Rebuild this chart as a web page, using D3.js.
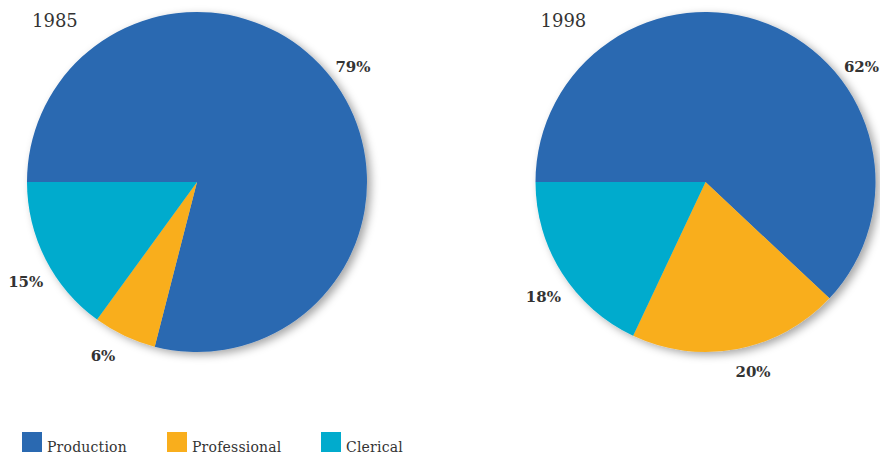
<!DOCTYPE html>
<html><head><meta charset="utf-8">
<script src="https://cdn.jsdelivr.net/npm/d3@7"></script>
<style>body{margin:0;background:#fff}svg{display:block}</style>
</head><body>
<svg id="chart" width="880" height="454"></svg>
<script>
const categories = ["Production", "Professional", "Clerical"];
const years = ["1985", "1998"];
const values1985 = [79, 6, 15];
const values1998 = [62, 20, 18];
const colors = ["#2a69b1", "#f9ae1c", "#01abcd"];

const svg = d3.select("#chart");
const defs = svg.append("defs");
const f = defs.append("filter").attr("id","shadow").attr("x","-20%").attr("y","-20%").attr("width","140%").attr("height","140%");
f.append("feDropShadow").attr("dx",4).attr("dy",3).attr("stdDeviation",4).attr("flood-color","#000").attr("flood-opacity",0.35);

const R = 170, labelR = 195;
const centers = [[197,182],[705.5,182]];
const color = d3.scaleOrdinal().domain(categories).range(colors);
const pie = d3.pie().sort(null).value(d => d.v)
  .startAngle(-Math.PI/2).endAngle(1.5*Math.PI);
const arc = d3.arc().innerRadius(0).outerRadius(R);

[values1985, values1998].forEach((vals, i) => {
  const data = categories.map((c,j)=>({c, v: vals[j]}));
  const g = svg.append("g").attr("transform", `translate(${centers[i][0]},${centers[i][1]})`);
  const gs = g.append("g").attr("filter","url(#shadow)");
  gs.selectAll("path").data(pie(data)).join("path")
    .attr("d", arc).attr("fill", d => color(d.data.c));
  g.selectAll("text.lbl").data(pie(data)).join("text")
    .attr("class","lbl")
    .each(function(d){
      let a = (d.startAngle + d.endAngle)/2;
      let y = -labelR*Math.cos(a);
      const minY = -117;
      if (y < minY) { a = Math.acos(-minY/labelR) * (Math.sin(a) >= 0 ? 1 : -1); }
      let x = labelR*Math.sin(a); y = -labelR*Math.cos(a);
      const s = Math.sin(a), c = Math.cos(a);
      if (c < 0) {
        if (Math.abs(s) < 0.5) { x += 11*Math.sign(s); y -= 4; }
        else { y += 9; x += 2.5; }
      }
      d3.select(this).attr("x", x).attr("y", y + 7);
    })
    .attr("text-anchor","middle")
    .attr("font-family","DejaVu Serif, serif").attr("font-weight","bold")
    .attr("font-size",15).attr("fill","#333")
    .text(d => d.data.v + "%");
  svg.append("text").attr("x", centers[i][0]-165).attr("y", 27)
    .attr("font-family","DejaVu Serif, serif").attr("font-size",18).attr("fill","#333")
    .text(years[i]);
});

const legendX = [22, 167, 321];
const lg = svg.append("g");
categories.forEach((c,i)=>{
  lg.append("rect").attr("x", legendX[i]).attr("y", 432).attr("width",20).attr("height",20).attr("fill", color(c));
  lg.append("text").attr("x", legendX[i]+25).attr("y", 452)
    .attr("font-family","DejaVu Serif, serif").attr("font-size",14).attr("fill","#333")
    .attr("letter-spacing",0.2)
    .text(c);
});
</script>
</body></html>
